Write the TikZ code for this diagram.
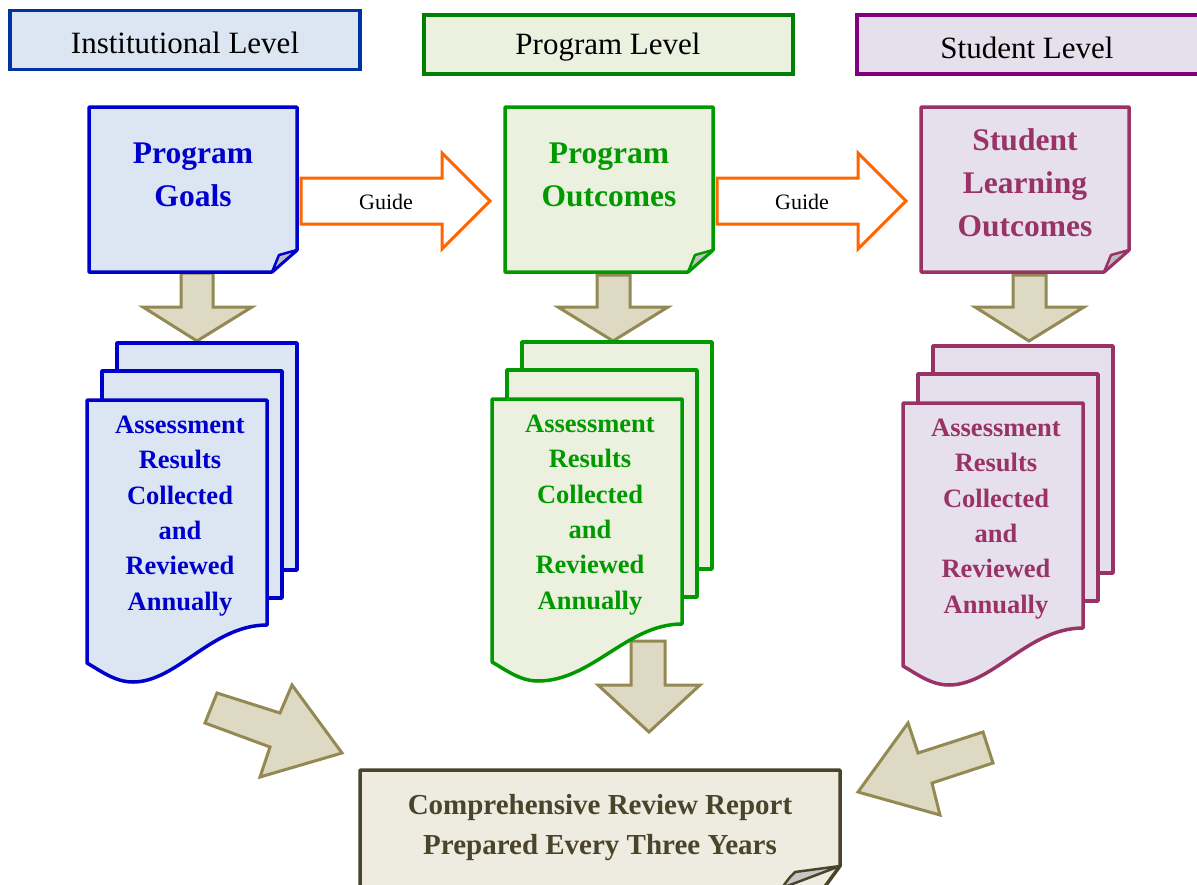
\documentclass[tikz,border=0pt]{standalone}
\usepackage{fontspec}
\setmainfont{Liberation Serif}
\definecolor{hdrblue}{HTML}{0033A0}
\definecolor{lblue}{HTML}{DCE6F2}
\definecolor{dblue}{HTML}{0000CC}
\definecolor{lgreen}{HTML}{EBF1DE}
\definecolor{dgreen}{HTML}{009900}
\definecolor{hgreen}{HTML}{008000}
\definecolor{lpurple}{HTML}{E6E0EC}
\definecolor{dpurple}{HTML}{993366}
\definecolor{hpurple}{HTML}{800080}
\definecolor{tanfill}{HTML}{DDD9C3}
\definecolor{tanline}{HTML}{938953}
\definecolor{rptfill}{HTML}{EEECE1}
\definecolor{rptline}{HTML}{4A452A}
\definecolor{orng}{HTML}{FF6600}
\tikzset{
  hdr/.style={draw, line width=3.5pt, minimum height=59pt, inner sep=0pt},
  hdrtext/.style={font=\fontsize{31}{36}\selectfont},
  blockarrow/.style={draw=tanline, fill=tanfill, line width=3pt, line join=miter},
  guidearrow/.style={draw=orng, fill=white, line width=3pt, line join=miter},
  docline/.style={line width=3.5pt, line join=round},
  doctext/.style={font=\fontsize{31.5}{43}\selectfont\bfseries, align=center},
  stacktext/.style={font=\fontsize{26.5}{35.3}\selectfont\bfseries, align=center},
  guidetext/.style={font=\fontsize{22}{26}\selectfont},
}
% #1 L, #2 T, #3 W, #4 draw colour, #5 fill colour, #6 node name
\newcommand{\docstack}[6]{%
  \begin{scope}[shift={(#1,#2)}]
    \draw[docline, draw=#4, fill=#5] (30,-57) rectangle (#3+30,170);
    \draw[docline, draw=#4, fill=#5] (15,-29) rectangle (#3+15,198);
    \draw[docline, draw=#4, fill=#5] (0,0) -- (#3,0) -- (#3,225)
      .. controls (#3-55,225) and (#3-90,282) .. (46,282)
      .. controls (28,282) and (14,271) .. (0,263) -- cycle;
    \node[stacktext, text=#4] (#6) at (#3/2+3,116)
      {Assessment\\Results\\Collected\\and\\Reviewed\\Annually};
  \end{scope}}
% #1 L, #2 T, #3 draw, #4 fill, #5 fold fill
\newcommand{\foldeddoc}[5]{%
  \begin{scope}[shift={(#1,#2)}]
    \draw[docline, draw=#3, fill=#4] (0,0) -- (208,0) -- (208,143) -- (183,165) -- (0,165) -- cycle;
    \draw[line width=2.5pt, line join=round, draw=#3, fill=#5] (208,143) -- (190,148)
      .. controls (187,156) .. (183,165) -- cycle;
  \end{scope}}
\begin{document}
\begin{tikzpicture}[x=1pt, y=-1pt]
\clip (0,0) rectangle (1197,884);
\fill[white] (0,0) rectangle (1197,884);

% headers
\node[hdr, draw=hdrblue, fill=lblue, minimum width=350pt] (hInst) at (185,40) {};
\node[hdrtext] (hInstText) at (185,43) {Institutional Level};
\node[hdr, draw=hgreen, fill=lgreen, minimum width=369pt] (hProg) at (608.5,44.5) {};
\node[hdrtext] (hProgText) at (608,47) {Program Level};
\node[hdr, draw=hpurple, fill=lpurple, minimum width=350pt] (hStud) at (1032,44.5) {};
\node[hdrtext] (hStudText) at (1027,48) {Student Level};

% down arrows under top documents
\draw[blockarrow] (181,273) -- (213,273) -- (213,307) -- (252,307) -- (197,341) -- (143,307) -- (181,307) -- cycle;
\draw[blockarrow] (597,275) -- (630,275) -- (630,307) -- (668,307) -- (613,341) -- (558,307) -- (597,307) -- cycle;
\draw[blockarrow] (1013,275) -- (1046,275) -- (1046,307) -- (1084,307) -- (1029,341) -- (975,307) -- (1013,307) -- cycle;

% top documents
\foldeddoc{89}{107}{dblue}{lblue}{lblue!60!gray}
\foldeddoc{505}{107}{dgreen}{lgreen}{lgreen!60!gray}
\foldeddoc{921}{107}{dpurple}{lpurple}{lpurple!60!gray}
\node[doctext, text=dblue] (goals) at (193,175) {Program\\Goals};
\node[doctext, text=dgreen] (pout) at (609,175) {Program\\Outcomes};
\node[doctext, text=dpurple] (slo) at (1025,183) {Student\\Learning\\Outcomes};

% guide arrows
\draw[guidearrow] (301,178) -- (442,178) -- (442,153) -- (490,201) -- (442,249) -- (442,224) -- (301,224) -- cycle;
\node[guidetext] (g1) at (386,202) {Guide};
\draw[guidearrow] (717,178) -- (858,178) -- (858,153) -- (906,201) -- (858,249) -- (858,224) -- (717,224) -- cycle;
\node[guidetext] (g2) at (802,202) {Guide};

% arrow from middle stack to report
\draw[blockarrow] (631,641) -- (665,641) -- (665,685) -- (700,685) -- (649,732) -- (598,685) -- (631,685) -- cycle;

% stacks
\docstack{87}{400}{180}{dblue}{lblue}{sInst}
\docstack{492}{399}{190}{dgreen}{lgreen}{sProg}
\docstack{903}{403}{180}{dpurple}{lpurple}{sStud}

% diagonal arrows
\draw[blockarrow] (217,693) -- (280,713) -- (292,685) -- (342,753) -- (260,777) -- (270,747) -- (205,723) -- cycle;
\draw[blockarrow] (983,732) -- (993,763) -- (932,783) -- (940,815) -- (858,792) -- (908,723) -- (918,753) -- cycle;

% report
\draw[docline, draw=rptline, fill=rptfill] (360,770) -- (840,770) -- (840,866) -- (818,896) -- (360,896) -- cycle;
\draw[line width=2.5pt, line join=round, draw=rptline, fill=gray!45] (840,866) -- (795,872)
  .. controls (789,878) .. (782,888) -- cycle;
\node[font=\fontsize{29}{40}\selectfont\bfseries, text=rptline, align=center] (report) at (600,828)
  {Comprehensive Review Report\\Prepared Every Three Years};
\end{tikzpicture}
\end{document}
